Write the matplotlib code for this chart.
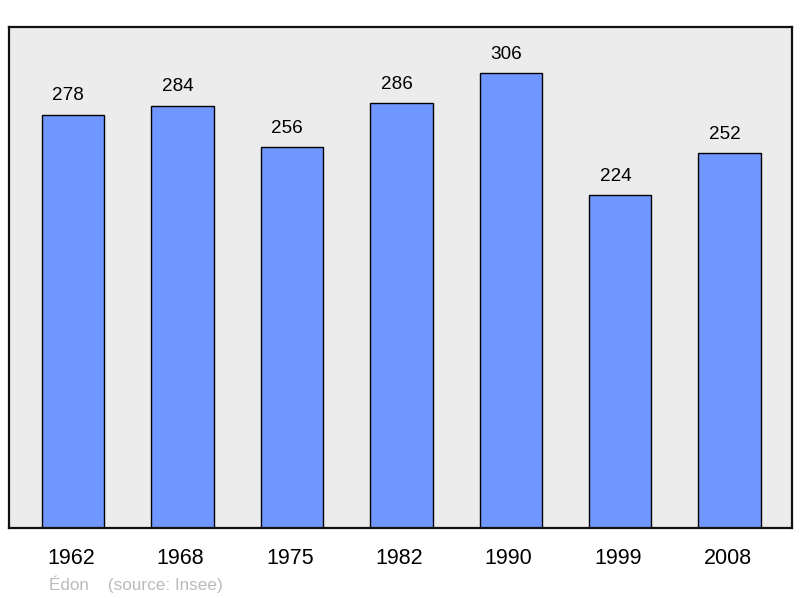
import matplotlib.pyplot as plt
import numpy as np

years = ["1962", "1968", "1975", "1982", "1990", "1999", "2008"]
population = [278, 284, 256, 286, 306, 224, 252]

plt.rcParams['font.family'] = ['Liberation Sans', 'DejaVu Sans']

fig = plt.figure(figsize=(8, 5.98), dpi=100)
# axes box in pixel terms: left 9, right 792, top 27, bottom 528
ax = fig.add_axes([9 / 800, 1 - 528 / 598, 783 / 800, 501 / 598])
ax.set_facecolor('#ececec')

x = np.arange(len(years))
ax.bar(x, population, width=0.57, color='#7096ff',
       edgecolor='black', linewidth=1.0, zorder=2)

# value labels, baseline a little above the bar top
for xi, v in zip(x, population):
    ax.annotate(str(v), xy=(xi, v), xytext=(-3.3, 10.3), textcoords="offset points",
                ha='center', va='baseline', fontsize=13.6)

# year labels under the axis
ax.set_xticks([])
ax.set_yticks([])
for xi, yr in zip(x, years):
    ax.annotate(yr, xy=(xi, 0), xycoords=('data', 'axes fraction'),
                xytext=(-1.5, -26), textcoords="offset points",
                ha='center', va='baseline', fontsize=15.5)

ax.set_xlim(-0.585, 6.57)
ax.set_ylim(0, 337)

for spine in ax.spines.values():
    spine.set_linewidth(1.6)
    spine.set_color('#111111')

fig.text(49 / 800, 1 - 584 / 598, "Édon    (source: Insee)", color='#bbbbbb',
         fontsize=12.3, ha='left', va='center')

fig.savefig("out.png", dpi=100)
